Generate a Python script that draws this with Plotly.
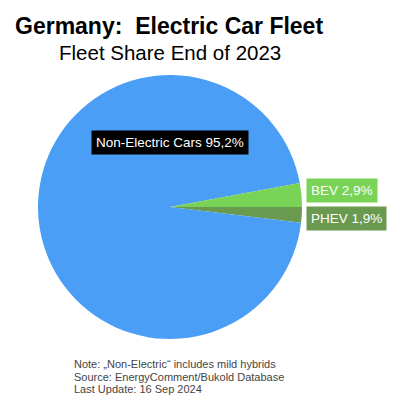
import plotly.graph_objects as go

# Data
categories = ["PHEV", "Non-Electric Cars", "BEV"]
shares = [1.9, 95.2, 2.9]
colors = ["#6A9A50", "#4A9EF5", "#78D356"]
label_bg = ["#6A9A50", "#000000", "#78D356"]
title_text = "Germany:  Electric Car Fleet"
subtitle_text = "Fleet Share End of 2023"
notes = ["Note: \u201eNon-Electric\u201c includes mild hybrids",
         "Source: EnergyComment/Bukold Database",
         "Last Update: 16 Sep 2024"]

# page has an 8px body margin: figure drawn at (8, 8)
OFF = 8
W, H = 399 - OFF, 400 - OFF

def px(x):
    return (x - OFF) / W

def py(y):
    return 1 - (y - OFF) / H

cx, cy, r = 170, 207, 132

fig = go.Figure(go.Pie(
    labels=categories,
    values=shares,
    marker=dict(colors=colors, line=dict(width=0)),
    sort=False,
    direction="clockwise",
    rotation=90,
    textinfo="none",
    hoverinfo="label+percent",
    showlegend=False,
    domain=dict(x=[px(cx - r), px(cx + r)], y=[py(cy + r), py(cy - r)]),
))

def fmt(v):
    return f"{v:.1f}%".replace(".", ",")

label_pos = {"BEV": (342, 190), "Non-Electric Cars": (170, 142), "PHEV": (346, 219)}
annotations = []
for cat, val, bg in zip(categories, shares, label_bg):
    x0, y0 = label_pos[cat]
    annotations.append(dict(
        x=px(x0), y=py(y0), xref="paper", yref="paper",
        text=f"{cat} {fmt(val)}", showarrow=False,
        font=dict(family="Liberation Sans, Arial, sans-serif", size=13.5, color="white"),
        bgcolor=bg, borderpad=4, xanchor="center", yanchor="middle",
    ))

annotations.append(dict(
    x=px(169), y=py(26), xref="paper", yref="paper", text=f"<b>{title_text}</b>",
    showarrow=False, xanchor="center", yanchor="middle",
    font=dict(family="Liberation Sans, Arial, sans-serif", size=23, color="black")))
annotations.append(dict(
    x=px(170), y=py(53), xref="paper", yref="paper", text=subtitle_text,
    showarrow=False, xanchor="center", yanchor="middle",
    font=dict(family="Liberation Sans, Arial, sans-serif", size=20.5, color="black")))
for i, line in enumerate(notes):
    annotations.append(dict(
        x=px(72), y=py(364 + 12.5 * i), xref="paper", yref="paper", text=line,
        showarrow=False, xanchor="left", yanchor="middle",
        font=dict(family="Liberation Sans, Arial, sans-serif", size=11, color="#444444")))

fig.update_layout(
    width=W, height=H,
    margin=dict(l=0, r=0, t=0, b=0),
    paper_bgcolor="white", plot_bgcolor="white",
    annotations=annotations,
)

fig.write_html("out.html", config={"displayModeBar": False})
